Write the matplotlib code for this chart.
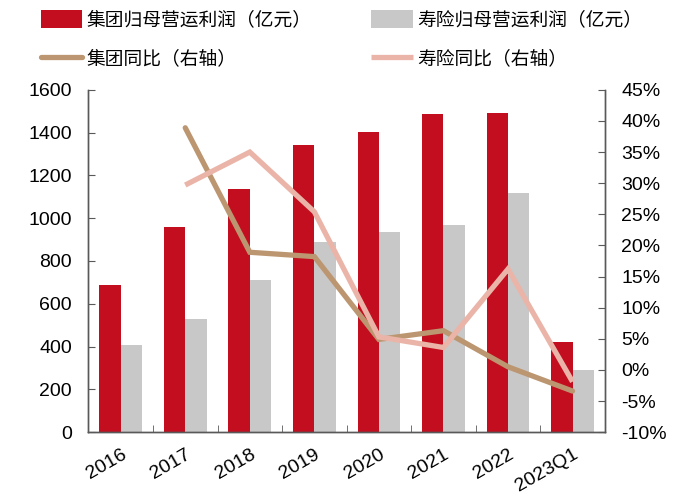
import matplotlib
matplotlib.use("Agg")
import matplotlib.pyplot as plt
import numpy as np
from matplotlib.ticker import FuncFormatter

plt.rcParams['font.family'] = ['Liberation Sans', 'Noto Sans CJK SC', 'DejaVu Sans']

categories = ['2016', '2017', '2018', '2019', '2020', '2021', '2022', '2023Q1']
group_profit = [690, 957, 1136, 1340, 1402, 1488, 1490, 422]
life_profit = [407, 527, 712, 890, 934, 966, 1120, 290]
group_yoy = [np.nan, 38.9, 18.9, 18.2, 4.9, 6.3, 0.5, -3.4]
life_yoy = [np.nan, 29.7, 35.0, 25.4, 5.3, 3.6, 16.2, -1.9]

labels = ['集团归母营运利润（亿元）', '寿险归母营运利润（亿元）', '集团同比（右轴）', '寿险同比（右轴）']
c_red = '#C20E1E'
c_gray = '#C8C8C8'
c_brown = '#BC9671'
c_pink = '#EAB5A8'
axis_col = '#595959'

fig = plt.figure(figsize=(6.75, 4.99), dpi=100)
ax = fig.add_axes([0.131, 0.134, 0.765, 0.686])
x = np.arange(len(categories))
w = 0.33
b1 = ax.bar(x - w/2, group_profit, w, color=c_red, zorder=2)
b2 = ax.bar(x + w/2, life_profit, w, color=c_gray, zorder=2)
ax.set_xlim(-0.5, len(categories) - 0.5)
ax.set_ylim(0, 1600)
ax.set_yticks(np.arange(0, 1601, 200))

ax2 = ax.twinx()
l1, = ax2.plot(x, group_yoy, color=c_brown, lw=3.8, solid_capstyle='round', solid_joinstyle='miter', zorder=3)
l2, = ax2.plot(x, life_yoy, color=c_pink, lw=3.8, solid_capstyle='butt', solid_joinstyle='miter', zorder=3)
ax2.set_ylim(-10, 45)
ax2.set_yticks(np.arange(-10, 46, 5))
ax2.yaxis.set_major_formatter(FuncFormatter(lambda v, p: f'{int(round(v))}%'))

ax.set_xticks(x)
ax.set_xticklabels(categories, rotation=30, ha='right', rotation_mode='anchor', fontsize=14)
ax.tick_params(axis='x', length=0, pad=10)
ax.set_xticks(np.arange(0.5, len(categories) - 0.5, 1), minor=True)
ax.tick_params(axis='x', which='minor', direction='in', length=5, color=axis_col)
ax.tick_params(axis='y', direction='in', length=5, labelsize=14, color=axis_col, pad=12)
ax2.tick_params(axis='y', direction='in', length=5, labelsize=14, color=axis_col, pad=12)

for a in (ax, ax2):
    a.spines['top'].set_visible(False)
    for s in ('left', 'right', 'bottom'):
        a.spines[s].set_color(axis_col)
        a.spines[s].set_linewidth(1.0)

leg = fig.legend([b1, l1, b2, l2], [labels[0], labels[2], labels[1], labels[3]],
                 ncol=2, loc='upper left', bbox_to_anchor=(0.035, 1.015), frameon=False,
                 prop={'family': ['Noto Sans CJK SC', 'DejaVu Sans'], 'size': 13.5},
                 handlelength=2.2, handleheight=1.1, handletextpad=0.25, columnspacing=3.2,
                 labelspacing=0.95)

fig.savefig('out.png', dpi=100)
